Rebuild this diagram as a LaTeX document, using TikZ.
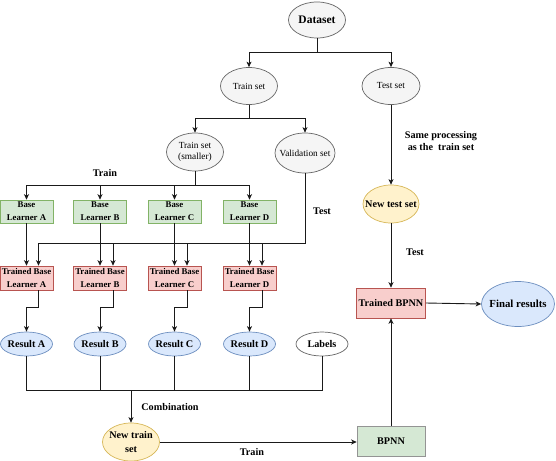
\documentclass[tikz,border=0pt]{standalone}
\usepackage{fontspec}
\setmainfont{Liberation Serif}
\usetikzlibrary{arrows.meta,shapes.geometric}
\definecolor{gfill}{HTML}{F5F5F5}
\definecolor{gline}{HTML}{666666}
\definecolor{grfill}{HTML}{D5E8D4}
\definecolor{grline}{HTML}{82B366}
\definecolor{pkfill}{HTML}{F8CECC}
\definecolor{pkline}{HTML}{B85450}
\definecolor{blfill}{HTML}{DAE8FC}
\definecolor{blline}{HTML}{6C8EBF}
\definecolor{yefill}{HTML}{FFF2CC}
\definecolor{yeline}{HTML}{D6B656}
\definecolor{conn}{HTML}{1A1A1A}
\begin{document}
\begin{tikzpicture}[x=1pt,y=-1pt,
  elnode/.style={ellipse, inner sep=0pt, line width=0.7pt},
  boxnode/.style={rectangle, inner sep=0pt, line width=0.6pt, align=center},
  grayel/.style={elnode, draw=gline, fill=gfill},
  whiteel/.style={elnode, draw=gline, fill=white},
  blueel/.style={elnode, draw=blline, fill=blfill},
  yellowel/.style={elnode, draw=yeline, fill=yefill},
  greenbox/.style={boxnode, draw=grline, fill=grfill},
  pinkbox/.style={boxnode, draw=pkline, fill=pkfill},
  arr/.style={draw=conn, line width=0.9pt, -{Stealth[length=5.5pt,width=5pt,inset=1.5pt]}},
  ln/.style={draw=conn, line width=0.9pt},
  bigt/.style={font=\fontsize{11.5}{13}\selectfont\bfseries},
  regt/.style={font=\fontsize{9.3}{11}\selectfont, align=center},
  boldt/.style={font=\fontsize{10.2}{14}\selectfont\bfseries, align=center},
  fint/.style={font=\fontsize{10.8}{13}\selectfont\bfseries},
  lrnt/.style={font=\fontsize{8.8}{12.8}\selectfont\bfseries, align=center},
  txt/.style={font=\fontsize{10.2}{12}\selectfont\bfseries, align=center, inner sep=0pt},
]
\useasboundingbox (0,0) rectangle (556,460);

% ellipses top
\node[grayel, minimum width=57pt, minimum height=36pt, label={[bigt]center:Dataset}] (ds) at (317,20) {};
\node[grayel, minimum width=57pt, minimum height=37pt, label={[regt]center:Train set}] (trs) at (249,86) {};
\node[grayel, minimum width=58pt, minimum height=37pt, label={[regt]center:Test set}] (tes) at (391,86) {};
\node[grayel, minimum width=57pt, minimum height=38pt, label={[regt]center:Train set\\(smaller)}] (trss) at (195,152) {};
\node[grayel, minimum width=60pt, minimum height=40pt, label={[regt]center:Validation set}] (val) at (305,153) {};

% base learners
\node[greenbox, lrnt, minimum width=53pt, minimum height=23pt] (bA) at (26.5,211.5) {Base\\Learner A};
\node[greenbox, lrnt, minimum width=53pt, minimum height=23pt] (bB) at (100,211.5) {Base\\Learner B};
\node[greenbox, lrnt, minimum width=53pt, minimum height=23pt] (bC) at (174.5,211.5) {Base\\Learner C};
\node[greenbox, lrnt, minimum width=53pt, minimum height=23pt] (bD) at (249.5,211.5) {Base\\Learner D};

% trained learners
\node[pinkbox, lrnt, minimum width=53pt, minimum height=24pt] (tA) at (26.5,278) {Trained Base\\Learner A};
\node[pinkbox, lrnt, minimum width=53pt, minimum height=24pt] (tB) at (100,278) {Trained Base\\Learner B};
\node[pinkbox, lrnt, minimum width=53pt, minimum height=24pt] (tC) at (174.5,278) {Trained Base\\Learner C};
\node[pinkbox, lrnt, minimum width=53pt, minimum height=24pt] (tD) at (249.5,278) {Trained Base\\Learner D};

% results
\node[blueel, minimum width=52pt, minimum height=24pt, label={[boldt]center:Result A}] (rA) at (26.5,344) {};
\node[blueel, minimum width=52pt, minimum height=24pt, label={[boldt]center:Result B}] (rB) at (100,344) {};
\node[blueel, minimum width=52pt, minimum height=24pt, label={[boldt]center:Result C}] (rC) at (174.5,344) {};
\node[blueel, minimum width=52pt, minimum height=24pt, label={[boldt]center:Result D}] (rD) at (249.5,344) {};
\node[whiteel, minimum width=52pt, minimum height=24pt, label={[boldt]center:Labels}] (lab) at (322,344) {};

% lower / right
\node[yellowel, minimum width=57pt, minimum height=38pt, label={[boldt]center:New train\\set}] (nts) at (131,442) {};
\node[greenbox, draw=gline!70, boldt, minimum width=68pt, minimum height=30pt] (bp) at (391,441) {BPNN};
\node[yellowel, minimum width=56pt, minimum height=38pt, label={[boldt]center:New test set}] (nte) at (391,204) {};
\node[pinkbox, boldt, minimum width=69pt, minimum height=30pt] (tbp) at (391,303) {Trained BPNN};
\node[blueel, minimum width=73pt, minimum height=45pt, label={[fint]center:Final results}] (fin) at (518,304) {};

% text labels
\node[txt] (lTrain1) at (105,173) {Train};
\node[txt] (lTest1) at (322,211) {Test};
\node[txt] (lSame) at (441,141) {Same processing\\as the\ \ train set};
\node[txt] (lTest2) at (415,252) {Test};
\node[txt] (lComb) at (170,407) {Combination};
\node[txt] (lTrain2) at (252,452) {Train};

% junction coordinates
\coordinate (j1) at (317,52);
\coordinate (j2) at (249,118);
\coordinate (j3) at (195,185);
\coordinate (tl) at (305,243);
\coordinate (yy) at (0,307);
\coordinate (hb) at (0,390);

% top tree
\draw[ln] (ds.south) -- (j1);
\draw[arr] (j1) -| (trs.north);
\draw[arr] (j1) -| (tes.north);
\draw[ln] (trs.south) -- (j2);
\draw[arr] (j2) -| (trss.north);
\draw[arr] (j2) -| (val.north);
\draw[ln] (trss.south) -- (j3);
\draw[arr] (j3) -| (bA.north);
\draw[arr] (j3) -| (bB.north);
\draw[arr] (j3) -| (bC.north);
\draw[arr] (j3) -| (bD.north);

% base -> trained
\draw[arr] (bA.south) -- (tA.north);
\draw[arr] (bB.south) -- (tB.north);
\draw[arr] (bC.south) -- (tC.north);
\draw[arr] (bD.south) -- (tD.north);

% validation test line
\coordinate (tAi) at ([xshift=12pt]tA.north);
\coordinate (tBi) at ([xshift=13pt]tB.north);
\coordinate (tCi) at ([xshift=12.5pt]tC.north);
\coordinate (tDi) at ([xshift=12.5pt]tD.north);
\draw[arr] (val.south) -- (tl) -| (tAi);
\draw[arr] (tBi |- tl) -- (tBi);
\draw[arr] (tCi |- tl) -- (tCi);
\draw[arr] (tDi |- tl) -- (tDi);

% trained -> results
\coordinate (tAo) at ([xshift=12pt]tA.south);
\coordinate (tBo) at ([xshift=13pt]tB.south);
\coordinate (tCo) at ([xshift=12.5pt]tC.south);
\coordinate (tDo) at ([xshift=12.5pt]tD.south);
\draw[arr] (tAo) -- (tAo |- yy) -| (rA.north);
\draw[arr] (tBo) -- (tBo |- yy) -| (rB.north);
\draw[arr] (tCo) -- (tCo |- yy) -| (rC.north);
\draw[arr] (tDo) -- (tDo |- yy) -| (rD.north);

% results -> combination
\draw[ln] (rA.south) -- (rA.south |- hb) -- (lab.south |- hb) -- (lab.south);
\draw[ln] (rB.south) -- (rB.south |- hb);
\draw[ln] (rC.south) -- (rC.south |- hb);
\draw[ln] (rD.south) -- (rD.south |- hb);
\draw[arr] (nts.north |- hb) -- (nts.north);

% BPNN part
\draw[arr] (nts.east) -- (nts.east -| bp.west);
\draw[arr] (bp.north) -- (tbp.south);
\draw[arr] (tes.south) -- (nte.north);
\draw[arr] (nte.south) -- (tbp.north);
\draw[arr] (tbp.east) -- (fin.west);
\end{tikzpicture}
\end{document}
